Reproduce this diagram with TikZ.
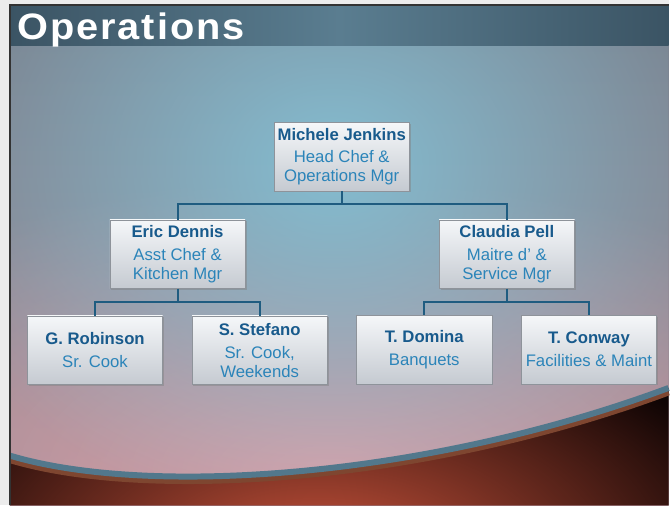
\documentclass[tikz,border=0pt]{standalone}
\usepackage{fontspec}
\setmainfont{Liberation Sans}
\usetikzlibrary{shadows, fadings}

\definecolor{pagegray}{HTML}{ECECEC}
\definecolor{bandedge}{HTML}{3B5464}
\definecolor{bandmid}{HTML}{5A7D90}
\definecolor{bodytop}{HTML}{787C88}
\definecolor{bodybottom}{HTML}{9C8C96}
\definecolor{glowcyan}{HTML}{84BDD1}
\definecolor{glowpink}{HTML}{DAA0A8}
\definecolor{floordark}{HTML}{0E0404}
\definecolor{floorred}{HTML}{CC543C}
\definecolor{arcblue}{HTML}{52788C}
\definecolor{arcrust}{HTML}{7E4630}
\definecolor{namecol}{HTML}{185A8C}
\definecolor{rolecol}{HTML}{2B84B9}
\definecolor{linkcol}{HTML}{1F5C80}
\definecolor{boxtop}{HTML}{F5F7F9}
\definecolor{boxbottom}{HTML}{C5CAD1}
\definecolor{boxedge}{HTML}{8E939A}

\tikzfading[name=softglow, inner color=transparent!0, outer color=transparent!100]

% name on the first line, job title below
\newcommand{\staff}[2]{{\bfseries\color{namecol}#1}\\[4pt]#2}

\begin{document}
\begin{tikzpicture}[x=1pt, y=-1pt,
  staffbox/.style={rectangle, draw=boxedge, line width=0.6pt,
    top color=boxtop, bottom color=boxbottom,
    minimum width=136pt, minimum height=69pt, inner sep=2pt,
    align=center, text=rolecol, font=\fontsize{16.8}{19}\selectfont,
    drop shadow={opacity=0.45, shadow xshift=1.5pt, shadow yshift=-1.5pt}},
  link/.style={draw=linkcol, line width=2pt}]

  %% page and slide background ------------------------------------
  \fill[pagegray] (0,0) rectangle (672,508);
  \shade[top color=bodytop, bottom color=bodybottom] (10,5) rectangle (672,508);
  \begin{scope}
    \clip (10,5) rectangle (672,508);
    \fill[glowpink, path fading=softglow] (330,475) ellipse [x radius=620, y radius=300];
    \fill[glowcyan, path fading=softglow] (335,165) ellipse [x radius=440, y radius=360];
  \end{scope}

  %% dark floor below the sweep
  \fill[floordark] (10,458) .. controls (150,500) and (430,480) .. (672,390)
    -- (672,508) -- (10,508) -- cycle;
  \begin{scope}
    \clip (10,458) .. controls (150,500) and (430,480) .. (672,390)
      -- (672,508) -- (10,508) -- cycle;
    \fill[floorred, path fading=softglow] (320,560) ellipse [x radius=460, y radius=240];
  \end{scope}
  \draw[arcrust, line width=7pt] (10,462) .. controls (150,504) and (430,484) .. (672,394);
  \draw[arcblue, line width=6pt] (10,458) .. controls (150,500) and (430,480) .. (672,390);

  %% title band
  \shade[left color=bandedge, right color=bandedge, middle color=bandmid]
    (10,5) rectangle (672,46);
  \draw[black!80, line width=1.5pt] (10,508) -- (10,5) -- (672,5);
  \node[anchor=base west, inner sep=0, text=white, xscale=1.08,
        font=\fontsize{37}{37}\selectfont\bfseries\addfontfeature{LetterSpace=5}]
    (title) at (17,40) {Operations};

  %% staff boxes
  \node[staffbox] (michele)  at (343.5,157.5) {\staff{Michele Jenkins}{Head Chef \&\\Operations Mgr}};
  \node[staffbox] (eric)     at (178.5,255.5) {\staff{Eric Dennis}{Asst Chef \&\\Kitchen Mgr}};
  \node[staffbox] (claudia)  at (509.5,255.5) {\staff{Claudia Pell}{Maitre d' \&\\Service Mgr}};
  \node[staffbox] (robinson) at (95.5,352)    {\staff{G. Robinson}{Sr. Cook}};
  \node[staffbox] (stefano)  at (261,352)     {\staff{S. Stefano}{Sr. Cook,\\Weekends}};
  \node[staffbox] (domina)   at (426.5,351.5) {\staff{T. Domina}{Banquets}};
  \node[staffbox] (conway)   at (592,351.5)   {\staff{T. Conway}{Facilities \& Maint}};

  %% reporting lines
  \draw[link] (michele.south) -- ++(0,13) -| (eric.north);
  \draw[link] (michele.south) -- ++(0,13) -| (claudia.north);
  \draw[link] (eric.south) -- ++(0,13) -| (robinson.north);
  \draw[link] (eric.south) -- ++(0,13) -| (stefano.north);
  \draw[link] (claudia.south) -- ++(0,13) -| (domina.north);
  \draw[link] (claudia.south) -- ++(0,13) -| (conway.north);
\end{tikzpicture}
\end{document}
